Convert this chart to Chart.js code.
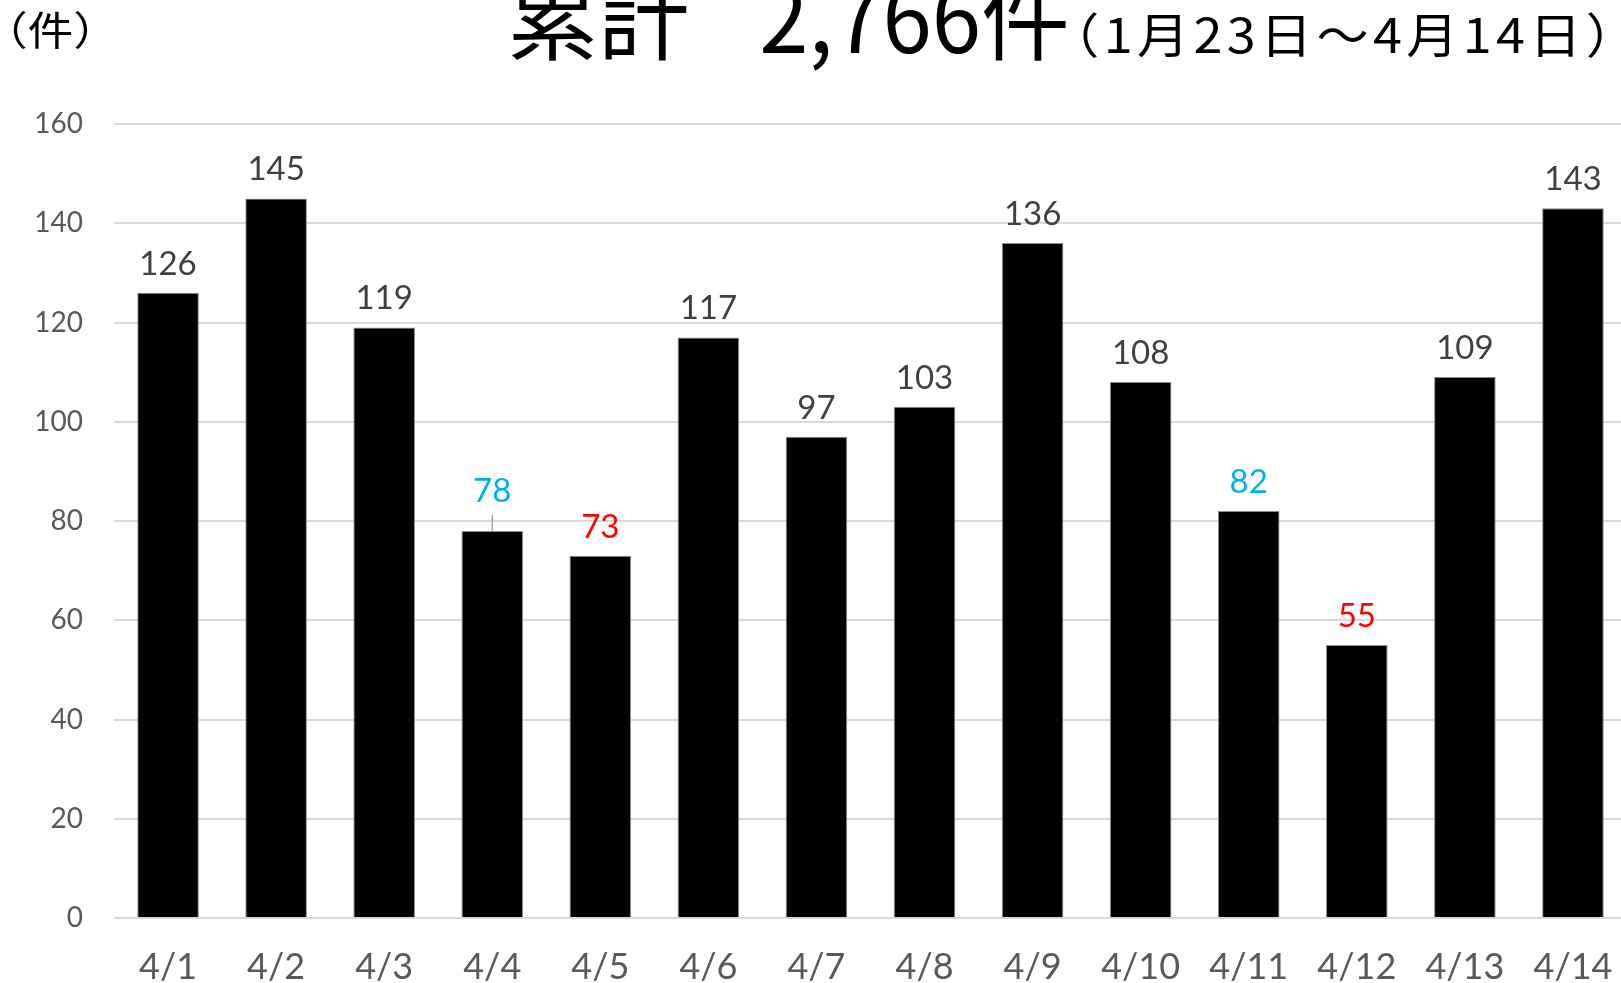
<!DOCTYPE html>
<html lang="ja">
<head>
<meta charset="UTF-8" />
<title>累計件数</title>
<script src="https://cdn.jsdelivr.net/npm/chart.js"></script>
<style>
  html, body { margin: 0; padding: 0; background: #fff; overflow: hidden; }
  #chart { position: absolute; left: 0; top: 0; }
</style>
</head>
<body>
<canvas id="chart" width="1627" height="983"></canvas>
<script>
// data
const year = 2020;
const categories = ["4/1", "4/2", "4/3", "4/4", "4/5", "4/6", "4/7", "4/8", "4/9", "4/10", "4/11", "4/12", "4/13", "4/14"];
const counts = [126, 145, 119, 78, 73, 117, 97, 103, 136, 108, 82, 55, 109, 143];
const yTicks = [0, 20, 40, 60, 80, 100, 120, 140, 160];
const titleMain = "累計";
const titleTotal = "2,766件";
const titlePeriod = "（1月23日～4月14日）";
const unitLabel = "（件）";

// saturday blue, sunday red
function dayColor(label) {
  const [m, d] = label.split("/").map(Number);
  const wd = new Date(year, m - 1, d).getDay();
  if (wd === 6) return "#00B0F0";
  if (wd === 0) return "#FF0000";
  return "#404040";
}

const cjk = '"Noto Sans CJK JP", sans-serif';
const latin = 'Lato, "Open Sans", sans-serif';

// draw text so its ink spans left..right
function fitInk(ctx, text, left, right, baseline) {
  const m = ctx.measureText(text);
  const inkW = m.actualBoundingBoxLeft + m.actualBoundingBoxRight;
  ctx.save();
  ctx.translate(left, baseline);
  ctx.scale((right - left) / inkW, 1);
  ctx.fillText(text, m.actualBoundingBoxLeft, 0);
  ctx.restore();
}

const titlePlugin = {
  id: "titleText",
  afterDraw(chart) {
    const ctx = chart.ctx;
    ctx.save();
    ctx.fillStyle = "#000";
    ctx.textAlign = "left";
    ctx.textBaseline = "alphabetic";
    ctx.font = "400 40px " + cjk;
    fitInk(ctx, unitLabel, 13, 88, 45);
    ctx.font = "400 94px " + cjk;
    fitInk(ctx, titleMain, 511, 687, 53);
    fitInk(ctx, titleTotal, 762, 1066, 53);
    ctx.font = "400 48px " + cjk;
    ctx.letterSpacing = "4px";
    fitInk(ctx, titlePeriod, 1083, 1602, 53);
    ctx.restore();
  }
};

const liftedIndex = 3; // 4/4 label moved up with a leader line
const labelGap = 18;
const liftExtra = 11;

const valuePlugin = {
  id: "valueLabels",
  afterDatasetsDraw(chart) {
    const ctx = chart.ctx;
    const meta = chart.getDatasetMeta(0);
    ctx.save();
    ctx.font = "33px " + latin;
    ctx.textAlign = "center";
    ctx.textBaseline = "alphabetic";
    meta.data.forEach((bar, i) => {
      let base = bar.y - labelGap;
      if (i === liftedIndex) {
        base -= liftExtra;
        ctx.strokeStyle = "#a6a6a6";
        ctx.lineWidth = 1.5;
        ctx.beginPath();
        ctx.moveTo(bar.x, bar.y - 16);
        ctx.lineTo(bar.x, bar.y);
        ctx.stroke();
      }
      ctx.fillStyle = dayColor(categories[i]);
      ctx.fillText(String(counts[i]), bar.x, base);
    });
    ctx.restore();
  }
};

new Chart(document.getElementById("chart"), {
  type: "bar",
  data: {
    labels: categories,
    datasets: [{
      data: counts,
      backgroundColor: "#000",
      borderColor: "#8c8c8c",
      borderWidth: 1,
      barPercentage: 0.57,
      categoryPercentage: 1
    }]
  },
  options: {
    responsive: false,
    animation: false,
    layout: { padding: { top: 124, left: 0, right: 0, bottom: 0 } },
    plugins: { legend: { display: false }, tooltip: { enabled: false } },
    scales: {
      x: {
        grid: { display: false },
        border: { display: false },
        ticks: { color: "#595959", font: { family: latin, size: 36 }, padding: 20, maxRotation: 0, autoSkip: false },
        afterFit(scale) {
          scale.height = 65;
          scale.paddingLeft = 0;
          scale.paddingRight = 0;
        }
      },
      y: {
        min: yTicks[0],
        max: yTicks[yTicks.length - 1],
        afterBuildTicks(scale) { scale.ticks = yTicks.map(v => ({ value: v })); },
        grid: { color: "#d9d9d9", lineWidth: 2, drawTicks: false },
        border: { display: false },
        ticks: { color: "#595959", font: { family: latin, size: 28 }, padding: 31 },
        afterFit(scale) { scale.width = 114; }
      }
    }
  },
  plugins: [titlePlugin, valuePlugin]
});
</script>
</body>
</html>
